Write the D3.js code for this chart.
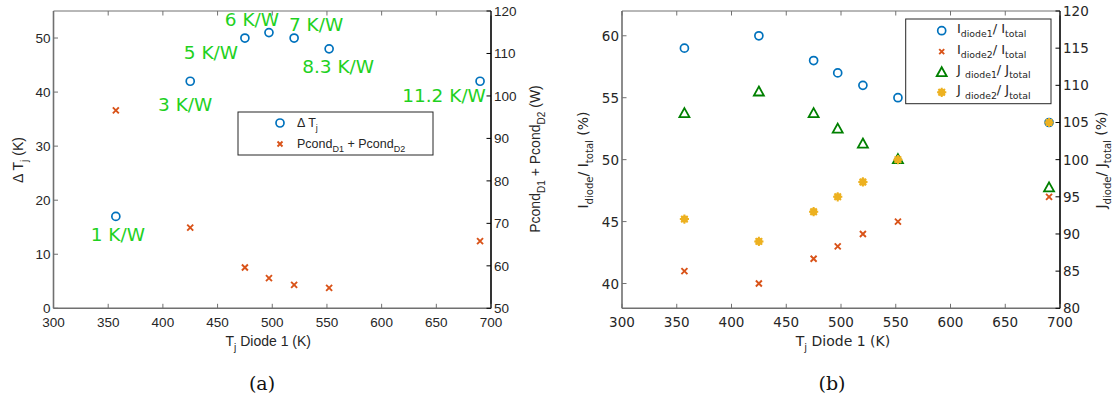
<!DOCTYPE html>
<html><head><meta charset="utf-8">
<script src="https://cdn.jsdelivr.net/npm/d3@7"></script>
<style>body{margin:0;background:#fff}svg{display:block}</style>
</head><body>
<svg id="c" width="1114" height="399"></svg>
<script>
// ---------- data ----------
const tj = [357, 425, 475, 497, 520, 552, 690];
const deltaTj = [17, 42, 50, 51, 50, 48, 42];
const pcond = [96.6, 69.0, 59.6, 57.1, 55.5, 54.8, 65.8];
const rthLabels = ["1 K/W", "3 K/W", "5 K/W", "6 K/W", "7 K/W", "8.3 K/W", "11.2 K/W"];
const iDiode1 = [59, 60, 58, 57, 56, 55, 53];
const iDiode2 = [41, 40, 42, 43, 44, 45, 47];
const jDiode1 = [106.2, 109.1, 106.2, 104.1, 102.1, 100, 96.2];
const jDiode2 = [92, 89, 93, 95, 97, 100, 105];
const xTicks = [300, 350, 400, 450, 500, 550, 600, 650, 700];
const aLeftTicks = [0, 10, 20, 30, 40, 50];
const aRightTicks = [50, 60, 70, 80, 90, 100, 110, 120];
const bLeftTicks = [40, 45, 50, 55, 60];
const bRightTicks = [80, 85, 90, 95, 100, 105, 110, 115, 120];
// label offsets (dx, dy in px relative to the point)
const labelPos = [[2, 25], [-5, 30], [-34, 21], [-17, -7], [22, -7], [9, 24], [-36, 21]];

const C = {blue: "#0072BD", orange: "#D95319", green: "#008000", yellow: "#EDB120", lbl: "#1fd11f", axis: "#707070"};
const svg = d3.select("#c");

function rich(g, parts, fs) {
  const t = g;
  let off = 0;
  parts.forEach(p => {
    const target = p.sub ? fs * 0.33 : 0;
    t.append("tspan").text(p.t).attr("font-size", p.sub ? fs * 0.72 : fs).attr("dy", target - off);
    off = target;
  });
  return t;
}
function circ(g, x, y, c) { g.append("circle").attr("cx", x).attr("cy", y).attr("r", 4).attr("fill", "none").attr("stroke", c).attr("stroke-width", 1.7); }
function cross(g, x, y, c, s = 3) { g.append("path").attr("d", `M${x-s},${y-s}L${x+s},${y+s}M${x-s},${y+s}L${x+s},${y-s}`).attr("stroke", c).attr("stroke-width", 1.9).attr("fill", "none"); }
function tri(g, x, y, c) { g.append("path").attr("d", `M${x},${y-5.5}L${x+5},${y+3.5}L${x-5},${y+3.5}Z`).attr("fill", "none").attr("stroke", c).attr("stroke-width", 1.8); }
function star(g, x, y, c) {
  g.append("circle").attr("cx", x).attr("cy", y).attr("r", 3.6).attr("fill", c);
  let d = "";
  for (let k = 0; k < 4; k++) { const a = k * Math.PI / 4; const dx = 4.6 * Math.cos(a), dy = 4.6 * Math.sin(a); d += `M${x-dx},${y-dy}L${x+dx},${y+dy}`; }
  g.append("path").attr("d", d).attr("stroke", c).attr("stroke-width", 2).attr("fill", "none");
}

function frame(L, R, T, B, x, yl, yr, ticksL, ticksR, font, leftColor) {
  const g = svg.append("g").attr("font-family", font).attr("font-size", 13.5);
  g.append("line").attr("x1", L).attr("x2", R).attr("y1", T).attr("y2", T).attr("stroke", C.axis).attr("stroke-width", 1);
  g.append("line").attr("x1", L).attr("x2", R).attr("y1", B).attr("y2", B).attr("stroke", C.axis).attr("stroke-width", 1.6);
  g.append("line").attr("x1", L).attr("x2", L).attr("y1", T).attr("y2", B).attr("stroke", leftColor).attr("stroke-width", 1.6);
  g.append("line").attr("x1", R).attr("x2", R).attr("y1", T).attr("y2", B).attr("stroke", "#000").attr("stroke-width", 1.6);
  xTicks.forEach(v => {
    const px = x(v);
    g.append("line").attr("x1", px).attr("x2", px).attr("y1", B).attr("y2", B - 4.5).attr("stroke", C.axis);
    g.append("line").attr("x1", px).attr("x2", px).attr("y1", T).attr("y2", T + 4.5).attr("stroke", C.axis);
    g.append("text").attr("x", px).attr("y", B + 19).attr("text-anchor", "middle").attr("fill", "#262626").text(v);
  });
  ticksL.forEach(v => {
    const py = yl(v);
    g.append("line").attr("x1", L).attr("x2", L + 4.5).attr("y1", py).attr("y2", py).attr("stroke", leftColor);
    g.append("text").attr("x", L - 3).attr("y", py + 5).attr("text-anchor", "end").attr("fill", "#262626").text(v);
  });
  ticksR.forEach(v => {
    const py = yr(v);
    g.append("line").attr("x1", R).attr("x2", R - 4.5).attr("y1", py).attr("y2", py).attr("stroke", "#000");
    g.append("text").attr("x", R + 3).attr("y", py + 5).attr("text-anchor", "start").attr("fill", "#262626").text(v);
  });
  return g;
}

// ---------- chart (a) ----------
{
  const L = 53.5, R = 491, T = 11, B = 308.3;
  const x = d3.scaleLinear().domain([300, 700]).range([L, R]);
  const yl = d3.scaleLinear().domain([0, 55]).range([B, T]);
  const yr = d3.scaleLinear().domain([50, 120]).range([B, T]);
  const font = "'Liberation Sans', Arial, sans-serif";
  frame(L, R, T, B, x, yl, yr, aLeftTicks, aRightTicks, font, C.axis);
  const m = svg.append("g");
  tj.forEach((v, i) => circ(m, x(v), yl(deltaTj[i]), C.blue));
  tj.forEach((v, i) => cross(m, x(v), yr(pcond[i]), C.orange));
  const lg = svg.append("g").attr("font-family", "'DejaVu Sans', sans-serif").attr("font-size", 18.5).attr("fill", C.lbl);
  tj.forEach((v, i) => lg.append("text").attr("x", x(v) + labelPos[i][0]).attr("y", yl(deltaTj[i]) + labelPos[i][1]).attr("text-anchor", "middle").text(rthLabels[i]));
  const leg = svg.append("g").attr("font-family", font).attr("font-size", 12.5).attr("fill", "#262626");
  leg.append("rect").attr("x", 238).attr("y", 112).attr("width", 195).attr("height", 43).attr("fill", "#fff").attr("stroke", "#262626").attr("stroke-width", 1);
  circ(leg, 280, 123, C.blue);
  rich(leg.append("text").attr("x", 297).attr("y", 127), [{t: "Δ T"}, {t: "j", sub: 1}], 12.5);
  cross(leg, 280, 144, C.orange, 2.5);
  rich(leg.append("text").attr("x", 297).attr("y", 148), [{t: "Pcond"}, {t: "D1", sub: 1}, {t: " + Pcond"}, {t: "D2", sub: 1}], 12.5);
  const al = svg.append("g").attr("font-family", font).attr("font-size", 14).attr("fill", "#262626");
  rich(al.append("text").attr("transform", "translate(23,160) rotate(-90)").attr("text-anchor", "middle"), [{t: "Δ T"}, {t: "j", sub: 1}, {t: " (K)"}], 14);
  rich(al.append("text").attr("transform", "translate(540,159) rotate(-90)").attr("text-anchor", "middle"), [{t: "Pcond"}, {t: "D1", sub: 1}, {t: " + Pcond"}, {t: "D2", sub: 1}, {t: " (W)"}], 14);
  rich(al.append("text").attr("x", (L + R) / 2 - 4).attr("y", 346).attr("text-anchor", "middle"), [{t: "T"}, {t: "j", sub: 1}, {t: " Diode 1 (K)"}], 14);
  svg.append("text").attr("x", 262).attr("y", 390).attr("text-anchor", "middle").attr("font-family", "'DejaVu Serif', 'Liberation Serif', serif").attr("font-size", 19).attr("fill", "#111").text("(a)");
}

// ---------- chart (b) ----------
{
  const L = 622, R = 1060, T = 11, B = 308.3;
  const x = d3.scaleLinear().domain([300, 700]).range([L, R]);
  const yl = d3.scaleLinear().domain([38, 62]).range([B, T]);
  const yr = d3.scaleLinear().domain([80, 120]).range([B, T]);
  const font = "'DejaVu Sans', sans-serif";
  frame(L, R, T, B, x, yl, yr, bLeftTicks, bRightTicks, font, C.axis);
  const m = svg.append("g");
  tj.forEach((v, i) => circ(m, x(v), yl(iDiode1[i]), C.blue));
  tj.forEach((v, i) => cross(m, x(v), yl(iDiode2[i]), C.orange));
  tj.forEach((v, i) => tri(m, x(v), yr(jDiode1[i]), C.green));
  tj.forEach((v, i) => star(m, x(v), yr(jDiode2[i]), C.yellow));
  const fs = 13;
  const leg = svg.append("g").attr("font-family", font).attr("font-size", fs).attr("fill", "#262626");
  leg.append("rect").attr("x", 905.7).attr("y", 19).attr("width", 145.3).attr("height", 84.7).attr("fill", "#fff").attr("stroke", "#262626").attr("stroke-width", 1);
  const ly = [30.7, 51.7, 71.7, 92.3];
  circ(leg, 941.7, ly[0], C.blue);
  cross(leg, 941.7, ly[1], C.orange, 2.5);
  tri(leg, 941.7, ly[2] + 1, C.green);
  star(leg, 941.7, ly[3], C.yellow);
  const entries = [
    [{t: "I"}, {t: "diode1", sub: 1}, {t: "/ I"}, {t: "total", sub: 1}],
    [{t: "I"}, {t: "diode2", sub: 1}, {t: "/ I"}, {t: "total", sub: 1}],
    [{t: "J "}, {t: "diode1", sub: 1}, {t: "/ J"}, {t: "total", sub: 1}],
    [{t: "J "}, {t: "diode2", sub: 1}, {t: "/ J"}, {t: "total", sub: 1}]
  ];
  entries.forEach((e, i) => rich(leg.append("text").attr("x", 957).attr("y", ly[i] + 2), e, fs));
  const al = svg.append("g").attr("font-family", font).attr("font-size", 14).attr("fill", "#262626");
  rich(al.append("text").attr("transform", "translate(588,160) rotate(-90)").attr("text-anchor", "middle"), [{t: "I"}, {t: "diode", sub: 1}, {t: "/ I"}, {t: "total", sub: 1}, {t: " (%)"}], 14);
  rich(al.append("text").attr("transform", "translate(1106,160) rotate(-90)").attr("text-anchor", "middle"), [{t: "J"}, {t: "diode", sub: 1}, {t: "/ J"}, {t: "total", sub: 1}, {t: " (%)"}], 14);
  rich(al.append("text").attr("x", 843).attr("y", 346).attr("text-anchor", "middle"), [{t: "T"}, {t: "j", sub: 1}, {t: " Diode 1 (K)"}], 14);
  svg.append("text").attr("x", 832).attr("y", 390).attr("text-anchor", "middle").attr("font-family", "'DejaVu Serif', 'Liberation Serif', serif").attr("font-size", 19).attr("fill", "#111").text("(b)");
}
</script>
</body></html>
